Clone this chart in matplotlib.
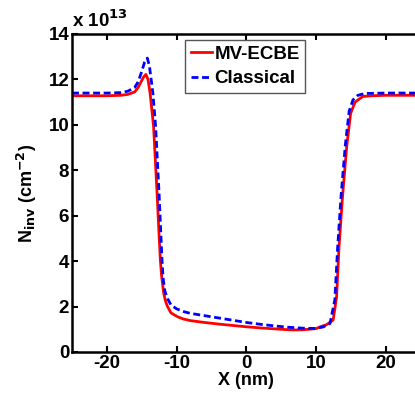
import matplotlib
matplotlib.use("Agg")
import matplotlib.pyplot as plt

plt.rcParams['font.family'] = ['Liberation Sans', 'DejaVu Sans']
plt.rcParams['font.weight'] = 'bold'
plt.rcParams['mathtext.default'] = 'bf'
plt.rcParams['axes.unicode_minus'] = False

# Inversion charge density along the channel, in units of 1e13 cm^-2
x_mv = [-25, -20, -18, -17, -16, -15.5, -15, -14.7, -14.4, -14.1, -13.8, -13.3,
        -13.05, -12.8, -12.57, -12.33, -12.14, -11.85, -11.6, -11.3, -10.8, -9.85,
        -9, -8, -6, -4, -2, 0, 2, 4, 6, 7, 8, 9, 10, 10.6, 11.5, 12.46, 12.95,
        13.3, 13.8, 14.4, 14.96, 15.6, 16.7, 18, 20, 25]
n_mv = [11.28, 11.28, 11.3, 11.34, 11.45, 11.65, 11.95, 12.12, 12.22, 12.0, 11.4,
        9.93, 8.46, 7.0, 5.52, 4.05, 3.32, 2.6, 2.25, 2.0, 1.72, 1.55, 1.45, 1.38,
        1.3, 1.23, 1.17, 1.11, 1.06, 1.02, 0.98, 0.97, 0.98, 1.0, 1.03, 1.11, 1.2,
        1.41, 2.43, 4.64, 6.84, 9.04, 10.5, 11.0, 11.25, 11.28, 11.3, 11.3]

x_cl = [-25, -20, -18, -17, -16, -15.5, -15, -14.6, -14.2, -13.9, -13.4, -13.0,
        -12.75, -12.5, -12.3, -12.1, -11.95, -11.7, -11.3, -10.8, -10, -8.9, -8,
        -6, -4, -2, 0, 2, 4, 6, 7, 8, 9, 10, 11, 12, 12.7, 13.1, 13.6, 14.2,
        14.75, 15.3, 16.0, 17, 20, 25]
n_cl = [11.4, 11.4, 11.42, 11.48, 11.65, 11.9, 12.35, 12.75, 12.94, 12.6, 11.4,
        9.9, 8.4, 6.9, 5.5, 4.1, 3.3, 2.7, 2.35, 2.07, 1.9, 1.77, 1.7, 1.6, 1.5,
        1.4, 1.3, 1.22, 1.15, 1.09, 1.07, 1.05, 1.04, 1.04, 1.1, 1.25, 2.3, 4.6,
        6.9, 9.1, 10.6, 11.1, 11.3, 11.38, 11.4, 11.4]

fig = plt.figure(figsize=(4.15, 3.98), dpi=100)
ax = fig.add_axes([0.1735, 0.1156, 0.84, 0.799])

ax.plot(x_mv, n_mv, color='#ff0000', lw=2.0, label='MV-ECBE')
ax.plot(x_cl, n_cl, color='#0000ff', lw=2.0, dashes=(2.5, 1.3), label='Classical')

ax.set_xlim(-25, 25)
ax.set_ylim(0, 14)
ax.set_xticks([-20, -10, 0, 10, 20])
ax.set_yticks([0, 2, 4, 6, 8, 10, 12, 14])
ax.tick_params(direction='in', length=4, width=1.5, labelsize=13.5, top=True,
               right=True, pad=2)
for lab in ax.get_xticklabels() + ax.get_yticklabels():
    lab.set_fontweight('bold')
for s in ax.spines.values():
    s.set_linewidth(1.8)

ax.set_xlabel('X (nm)', fontsize=13, fontweight='bold', labelpad=0)
ax.set_ylabel(r'N$_{\mathrm{\mathbf{inv}}}$ (cm$^{\mathbf{-2}}$)', fontsize=13,
              fontweight='bold', labelpad=7)
ax.text(0.0, 1.01, r'x 10$^{\mathbf{13}}$', transform=ax.transAxes,
        fontsize=13.5, fontweight='bold', ha='left', va='bottom')

leg = ax.legend(loc='upper left', bbox_to_anchor=(0.325, 0.981),
                prop={'weight': 'bold', 'size': 13.5}, handlelength=1.1,
                handletextpad=0.15, borderpad=0.3, borderaxespad=0,
                labelspacing=0.4, fancybox=False, framealpha=1,
                edgecolor='#555555')
leg.get_frame().set_linewidth(1.0)

fig.savefig('out.png', dpi=100)
